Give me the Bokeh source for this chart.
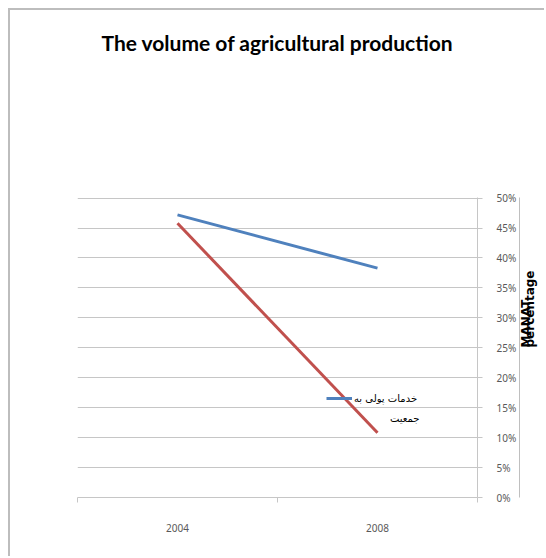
import math
from bokeh.plotting import figure
from bokeh.models import (Range1d, FixedTicker, NumeralTickFormatter, LinearAxis,
                          Label, Legend, LegendItem, Title)
from bokeh.embed import file_html
from bokeh.resources import INLINE

# Data
years = ["2004", "2008"]
money_services = [0.472, 0.383]    # blue series
second_series = [0.458, 0.108]     # red series
legend_label_1 = "خدمات پولی به"
legend_label_2 = "جمعیت"
title_text = "The volume of agricultural production"
y_title_1 = "MANAT"
y_title_2 = "percentage"
y_ticks = [0.0, 0.05, 0.10, 0.15, 0.20, 0.25, 0.30, 0.35, 0.40, 0.45, 0.50]

# category centres sit halfway between the category boundaries
xs = [i + 0.5 for i in range(len(years))]
bounds = list(range(len(years) + 1))

GRID = "#c6c6c6"
TXT = "#595959"
TICK_FONT = "Noto Sans"

p = figure(width=536, height=548, output_backend="svg", toolbar_location=None,
           x_range=Range1d(0, len(years)), y_range=Range1d(0, 0.501),
           min_border_left=67, min_border_right=69, min_border_top=187, min_border_bottom=61,
           y_axis_location="right")
p.outline_line_color = None
p.background_fill_color = "white"
p.border_fill_color = "white"
# chart area border (only the left and top edges fall inside the page)
p.styles = {"border-left": "2px solid #bdbdbd", "border-top": "2px solid #bdbdbd",
            "margin-left": "8px", "margin-top": "8px"}

# x axis: labels at category centres, tick marks at boundaries
xa = p.xaxis[0]
xa.ticker = FixedTicker(ticks=xs, minor_ticks=bounds)
xa.major_label_overrides = {x: y for x, y in zip(xs, years)}
xa.major_tick_out = 0
xa.major_tick_in = 0
xa.minor_tick_out = 5
xa.minor_tick_in = 0
xa.minor_tick_line_color = GRID
xa.axis_line_color = GRID
xa.major_label_text_font = TICK_FONT
xa.major_label_text_font_size = "10px"
xa.major_label_text_color = TXT
xa.major_label_standoff = 21
p.xgrid.visible = False

ya = p.yaxis[0]
ya.ticker = FixedTicker(ticks=y_ticks)
ya.formatter = NumeralTickFormatter(format="0%")
ya.major_tick_out = 5
ya.major_tick_in = 0
ya.minor_tick_line_color = None
ya.major_tick_line_color = GRID
ya.axis_line_color = GRID
ya.major_label_text_font = TICK_FONT
ya.major_label_text_font_size = "10px"
ya.major_label_text_color = TXT
ya.major_label_standoff = 14
p.ygrid.grid_line_color = GRID
p.ygrid.ticker = FixedTicker(ticks=y_ticks)

blue = p.line(xs, money_services, line_color="#4F81BD", line_width=3)
red = p.line(xs, second_series, line_color="#C0504D", line_width=3)

# secondary axis: plain line carrying the "MANAT" title
ya2 = LinearAxis(ticker=FixedTicker(ticks=[]), axis_line_color="#bfbfbf",
                 major_tick_line_color=None, minor_tick_line_color=None,
                 major_label_text_alpha=0, axis_label=y_title_1,
                 axis_label_orientation=math.pi / 2,
                 axis_label_standoff=6, axis_label_text_font="DejaVu Sans",
                 axis_label_text_font_style="bold", axis_label_text_font_size="12px",
                 axis_label_text_color="black")
p.add_layout(ya2, "right")

# second title, pulled back so it overlaps the first one
ya3 = LinearAxis(ticker=FixedTicker(ticks=[]), axis_line_color=None, bounds=(0.15, 0.5),
                 major_tick_line_color=None, minor_tick_line_color=None,
                 major_label_text_alpha=0, axis_label=y_title_2,
                 axis_label_orientation=math.pi / 2,
                 axis_label_standoff=-13, axis_label_text_font="DejaVu Sans",
                 axis_label_text_font_style="bold", axis_label_text_font_size="12px",
                 axis_label_text_color="black")
p.add_layout(ya3, "right")

# spacer between the frame and the chart title
spacer = LinearAxis(ticker=FixedTicker(ticks=[]), axis_line_color=None,
                    major_tick_line_color=None, minor_tick_line_color=None,
                    major_label_text_alpha=0, axis_label="\u00a0",
                    axis_label_standoff=120, axis_label_text_alpha=0)
p.add_layout(spacer, "above")
p.add_layout(Title(text=title_text, align="center", text_font="Lato",
                   text_font_style="bold", text_font_size="21px", text_color="black"),
             "above")

legend = Legend(items=[LegendItem(label=legend_label_1, renderers=[blue])],
                location=(249, 89), padding=0, margin=0, glyph_width=26, glyph_height=20,
                label_standoff=2, border_line_alpha=0, background_fill_alpha=0,
                label_text_font="DejaVu Sans", label_text_font_size="10px",
                label_text_color="black")
p.add_layout(legend, "center")
p.add_layout(Label(x=407, y=406, x_units="canvas", y_units="canvas", text=legend_label_2,
                   text_align="right", text_baseline="middle", text_font="DejaVu Sans",
                   text_font_size="10px", text_color="black"))

open("out.html", "w").write(file_html(p, INLINE))
